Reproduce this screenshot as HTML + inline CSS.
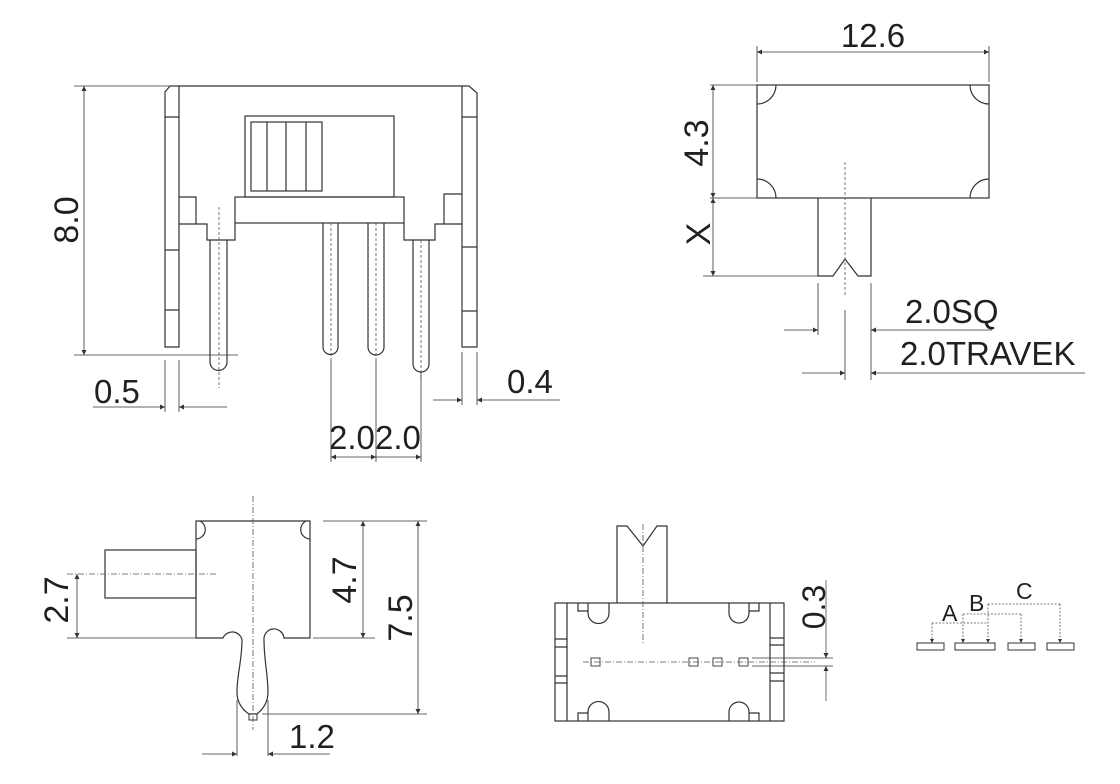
<!DOCTYPE html>
<html><head><meta charset="utf-8"><style>
html,body{margin:0;padding:0;background:#fff;}
svg{display:block;}
text{font-family:"Liberation Sans",sans-serif;fill:#231f20;}
</style></head><body>
<svg width="1120" height="784" viewBox="0 0 1120 784" xmlns="http://www.w3.org/2000/svg">
<defs>
<marker id="ar" viewBox="0 0 10 10" refX="10" refY="5" markerWidth="7" markerHeight="5" orient="auto-start-reverse" markerUnits="userSpaceOnUse"><path d="M0,0 L10,5 L0,10 z" fill="#333"/></marker>
<marker id="as" viewBox="0 0 10 10" refX="10" refY="5" markerWidth="5" markerHeight="4" orient="auto" markerUnits="userSpaceOnUse"><path d="M0,0 L10,5 L0,10 z" fill="#333"/></marker>
</defs>
<g fill="none" stroke="#333" stroke-width="1.2">
<!-- VIEW 1 -->
<path d="M170,86 L469,86 L477,93 L477,347 L462,347 L462,86"/>
<path d="M179,86 L179,347 L165,347 L165,92 L170,86"/>
<path d="M165,117H179M165,250H179M165,310H179M462,117H477M462,247H477M462,311H477"/>
<rect x="245" y="116" width="149" height="81"/>
<rect x="251" y="122" width="71" height="69"/>
<path d="M267,122V191M286,122V191M306,122V191"/>
<rect x="235" y="197" width="169" height="26"/>
<path d="M179,197H196V224M179,224H207V240H235V223"/>
<path d="M462,194H444V224M462,224H435V240H404V223"/>
<path d="M210,240V362A8.5,8.5 0 0 0 227,362V240"/>
<path d="M323,223V347A7.5,7.5 0 0 0 338,347V223"/>
<path d="M368,223V347A8,8 0 0 0 384,347V223"/>
<path d="M413,240V364A8,8 0 0 0 429,364V240"/>
</g>
<g fill="none" stroke="#555" stroke-width="0.8" stroke-dasharray="3,2">
<path d="M219,207V388M331,223V360M376,223V360M421,240V378"/>
</g>
<g fill="none" stroke="#333" stroke-width="0.8">
<path d="M74,86H170M74,355H238"/>
<path d="M84,86V355" marker-start="url(#ar)" marker-end="url(#ar)"/>
<path d="M165,360V412M179,360V412"/>
<path d="M93,407H165" marker-end="url(#ar)"/><path d="M227,407H179" marker-end="url(#ar)"/>
<path d="M462,352V405M477,352V405"/>
<path d="M433,400H462" marker-end="url(#ar)"/><path d="M560,400H477" marker-end="url(#ar)"/>
<path d="M331,360V462M376,360V462M421,372V462"/>
<path d="M331,457H376" marker-start="url(#ar)" marker-end="url(#ar)"/>
<path d="M376,457H421" marker-end="url(#ar)"/>
</g>
<text font-size="34" transform="translate(67,220) rotate(-90)" text-anchor="middle" dominant-baseline="central">8.0</text>
<text font-size="33" x="94" y="403">0.5</text>
<text font-size="33" x="507" y="393">0.4</text>
<text font-size="33" x="329" y="449">2.0</text>
<text font-size="33" x="375" y="449">2.0</text>

<!-- VIEW 2 -->
<g fill="none" stroke="#333" stroke-width="1.2">
<rect x="757" y="85" width="232" height="113"/>
<path d="M757,104A19,19 0 0 0 776,85M970,85A19,19 0 0 0 989,104M757,179A19,19 0 0 1 776,198M970,198A19,19 0 0 1 989,179"/>
<path d="M818,198V276H833L845,259L858,276H871V198"/>
</g>
<path d="M845,162V297" stroke="#555" stroke-width="0.8" stroke-dasharray="3,2" fill="none"/>
<g fill="none" stroke="#333" stroke-width="0.8">
<path d="M757,46V82M989,46V82"/>
<path d="M757,52H989" marker-start="url(#ar)" marker-end="url(#ar)"/>
<path d="M710,85H757M710,198H757M703,276H818"/>
<path d="M713,85V198" marker-start="url(#ar)" marker-end="url(#ar)"/>
<path d="M713,198V276" marker-start="url(#ar)" marker-end="url(#ar)"/>
<path d="M818,283V335M871,283V380M845,310V380"/>
<path d="M784,330H818" marker-end="url(#ar)"/><path d="M992,330H871" marker-end="url(#ar)"/>
<path d="M802,373H845" marker-end="url(#ar)"/><path d="M1085,373H871" marker-end="url(#ar)"/>
</g>
<text font-size="33" x="873" y="47" text-anchor="middle">12.6</text>
<text font-size="34" transform="translate(697,143) rotate(-90)" text-anchor="middle" dominant-baseline="central">4.3</text>
<text font-size="34" transform="translate(699,234) rotate(-90)" text-anchor="middle" dominant-baseline="central">X</text>
<text font-size="33" x="905" y="323">2.0SQ</text>
<text font-size="33" x="900" y="365">2.0TRAVEK</text>

<!-- VIEW 3 -->
<g fill="none" stroke="#333" stroke-width="1.2">
<path d="M196,521H310V638H284A10,10 0 0 0 264,640C264,660 268,675 268,692C268,703 262,710 257,714L249,714C243,710 237,703 237,692C237,675 242,660 242,640A10,10 0 0 0 223,638H196Z"/>
<rect x="249" y="714" width="8" height="6" stroke-width="1"/>
<path d="M200,521A9.5,9.5 0 0 1 196,539M306,521A9.5,9.5 0 0 0 310,539"/>
<rect x="105" y="550" width="91" height="48"/>
</g>
<g fill="none" stroke="#555" stroke-width="0.8" stroke-dasharray="6,2,1,2">
<path d="M67,574H218M253,496V730"/>
</g>
<g fill="none" stroke="#333" stroke-width="0.8">
<path d="M67,638H196"/>
<path d="M77,574V638" marker-start="url(#ar)" marker-end="url(#ar)"/>
<path d="M323,521H427M313,638H375M262,714H427"/>
<path d="M363,521V638" marker-start="url(#ar)" marker-end="url(#ar)"/>
<path d="M418,521V714" marker-start="url(#ar)" marker-end="url(#ar)"/>
<path d="M237,700V756M268,700V756"/>
<path d="M202,754H237" marker-end="url(#ar)"/><path d="M330,754H268" marker-end="url(#ar)"/>
</g>
<text font-size="34" transform="translate(57,600) rotate(-90)" text-anchor="middle" dominant-baseline="central">2.7</text>
<text font-size="34" transform="translate(345,580) rotate(-90)" text-anchor="middle" dominant-baseline="central">4.7</text>
<text font-size="34" transform="translate(401,618) rotate(-90)" text-anchor="middle" dominant-baseline="central">7.5</text>
<text font-size="33" x="289" y="748">1.2</text>

<!-- VIEW 4 -->
<g fill="none" stroke="#333" stroke-width="1.2">
<path d="M617,603V526H627L643,546L657,526H667V603"/>
<rect x="555" y="603" width="229" height="118"/>
<path d="M567,603V721M770,603V721"/>
<path d="M555,639H567M555,647H567M555,676H567M555,683H567M770,638H784M770,645H784M770,673H784M770,681H784"/>
<path d="M588,603V613A10.5,10.5 0 0 0 609,613V603M729,603V613A10,10 0 0 0 749,613V603"/>
<path d="M588,721V712A10.5,10.5 0 0 1 609,712V721M729,721V712A10,10 0 0 1 749,712V721"/>
<path d="M578,603V611H588M749,611H759V603M578,721V713H588M749,713H759V721"/>
</g>
<g fill="none" stroke="#333" stroke-width="0.9">
<rect x="591" y="658" width="9" height="8"/><rect x="689" y="658" width="9" height="8"/>
<rect x="713" y="658" width="9" height="8"/><rect x="739" y="658" width="9" height="8"/>
</g>
<g fill="none" stroke="#555" stroke-width="0.8" stroke-dasharray="6,2,1,2">
<path d="M583,662H815M643,524V643"/>
</g>
<g fill="none" stroke="#333" stroke-width="0.7">
<path d="M752,658H833M752,666H833"/>
<path d="M826,580V658" marker-end="url(#ar)"/><path d="M826,701V666" marker-end="url(#ar)"/>
</g>
<text font-size="32" transform="translate(814,607) rotate(-90)" text-anchor="middle" dominant-baseline="central">0.3</text>

<!-- VIEW 5 -->
<g fill="none" stroke="#333" stroke-width="1">
<rect x="917" y="643" width="27" height="7"/><rect x="955" y="643" width="40" height="7"/>
<rect x="1008" y="643" width="27" height="7"/><rect x="1047" y="643" width="27" height="7"/>
</g>
<g fill="none" stroke="#555" stroke-width="0.8" stroke-dasharray="2,1.5">
<path d="M988,604H1060M963,614H1021M932,623H988"/>
<path d="M932,623V643" marker-end="url(#as)"/>
<path d="M963,614V643" marker-end="url(#as)"/>
<path d="M988,604V643" marker-end="url(#as)"/>
<path d="M1021,614V643" marker-end="url(#as)"/>
<path d="M1060,604V643" marker-end="url(#as)"/>
</g>
<text font-size="23" x="942" y="621">A</text>
<text font-size="23" x="969" y="611">B</text>
<text font-size="23" x="1016" y="599">C</text>
</svg>
</body></html>
